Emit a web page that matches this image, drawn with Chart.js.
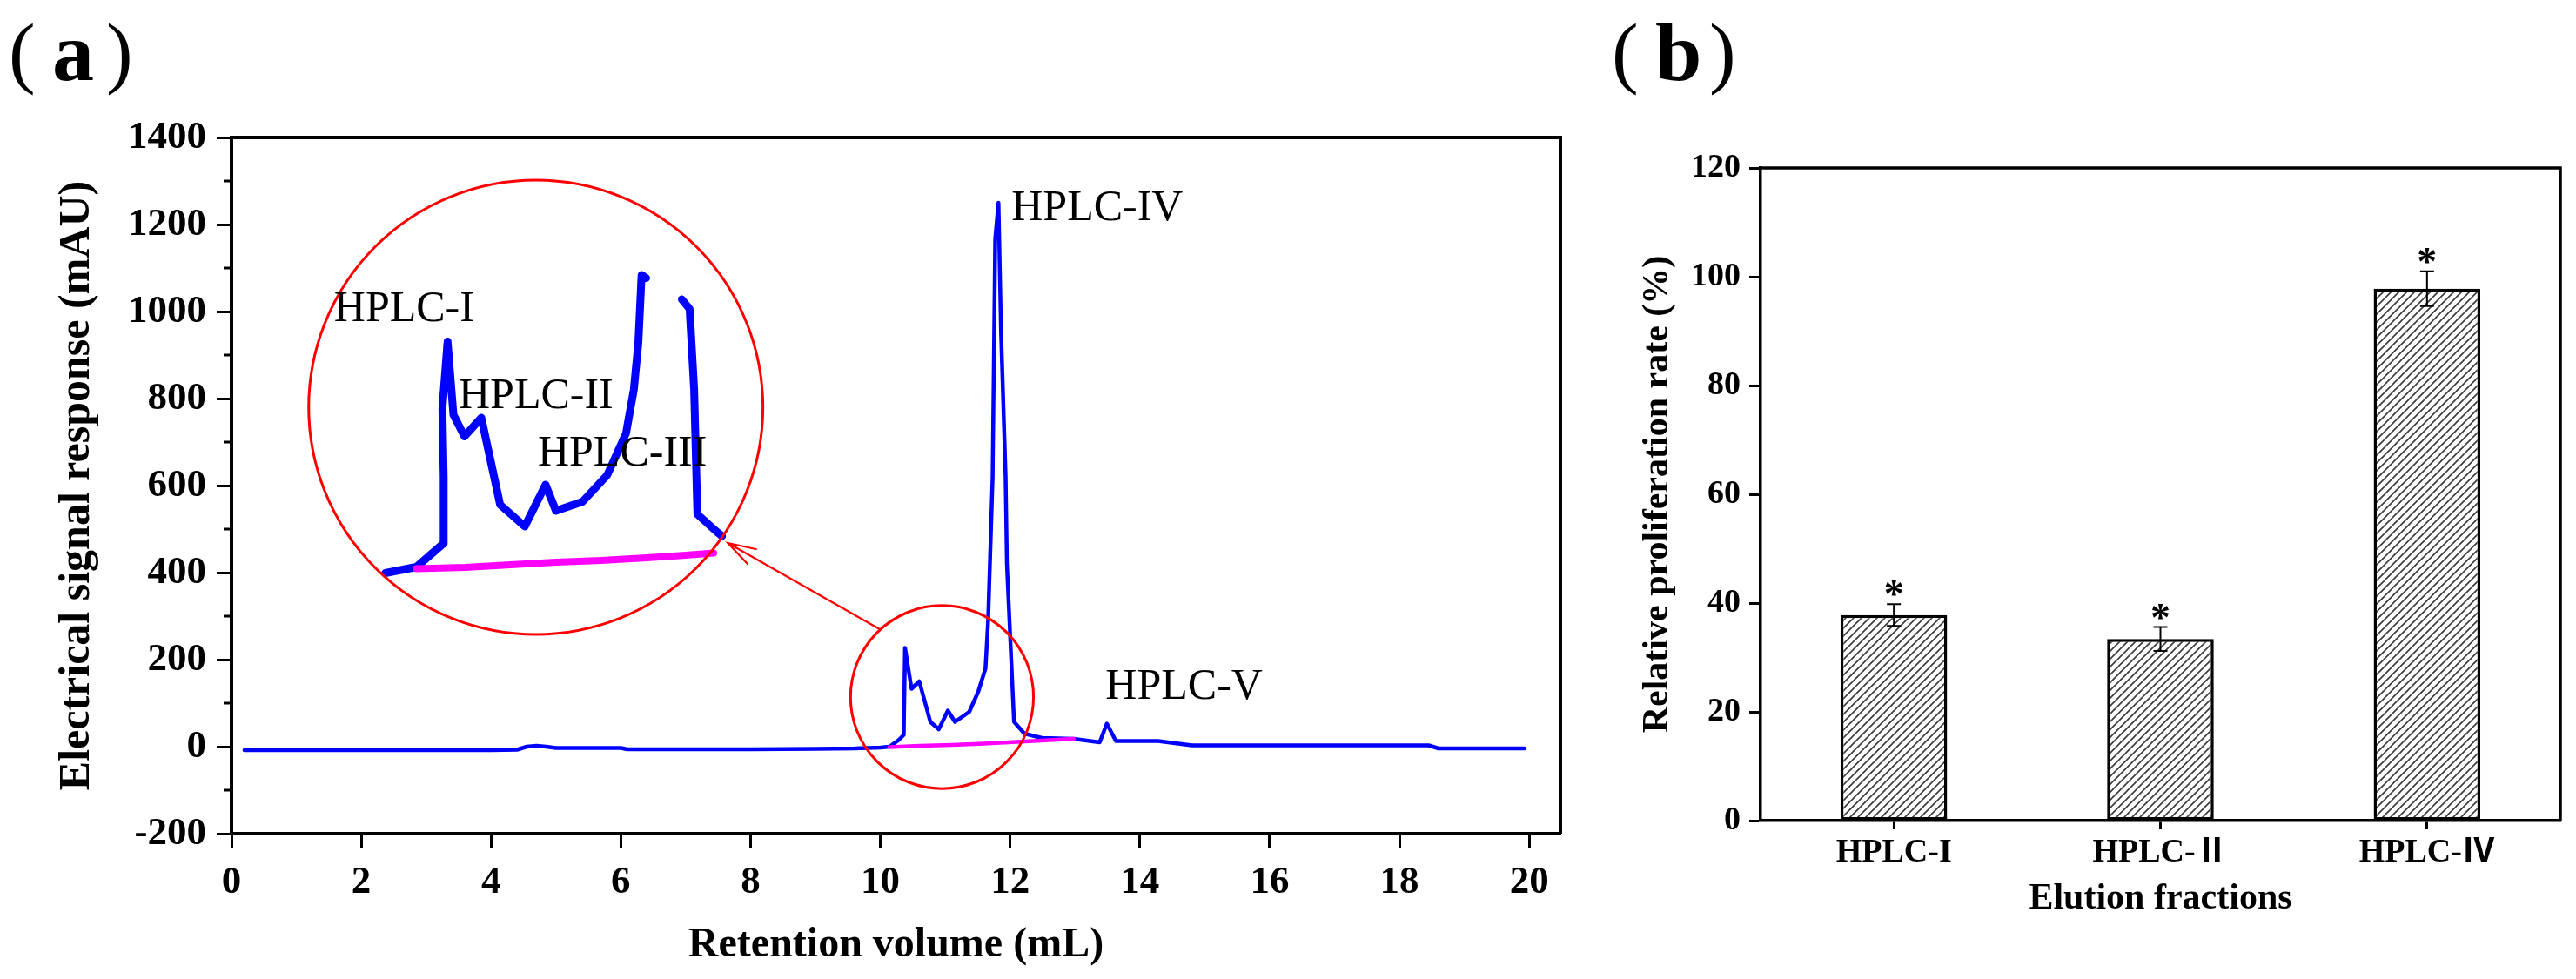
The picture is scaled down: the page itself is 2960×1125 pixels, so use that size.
<!DOCTYPE html>
<html>
<head>
<meta charset="utf-8">
<title>HPLC fractions</title>
<script src="https://cdn.jsdelivr.net/npm/chart.js@4/dist/chart.umd.min.js"></script>
<style>
  html, body { margin: 0; padding: 0; background: #fff; }
  #wrap { position: relative; width: 2960px; height: 1125px; }
  canvas { position: absolute; top: 0; }
  #chartA { left: 0; }
  #chartB { left: 1850px; }
</style>
</head>
<body>
<div id="wrap">
  <canvas id="chartA" width="1850" height="1125"></canvas>
  <canvas id="chartB" width="1110" height="1125"></canvas>
</div>
<script>
// (a) chromatogram, retention volume (mL) vs signal (mAU)
const traceX = [0.2, 1, 2, 3, 4, 4.4, 4.55, 4.7, 4.85, 5.0, 6.0, 6.1, 7, 8, 9, 9.6, 10.0, 10.14, 10.28, 10.36,
  10.38, 10.48, 10.6, 10.77, 10.9, 11.04, 11.15, 11.37, 11.51, 11.62, 11.66, 11.73, 11.77, 11.82, 11.86,
  11.93, 11.95, 12.06, 12.22, 12.49, 12.98, 13.38, 13.49, 13.63, 14.28, 14.54, 14.8, 18.45, 18.6, 19.93];
const traceY = [-8, -8, -8, -8, -8, -7, 0, 2, 0, -3, -3, -6, -6, -6, -5, -4, -2, 0, 15, 27,
  227, 133, 150, 57, 40, 83, 57, 80, 127, 180, 287, 620, 1167, 1250, 953,
  620, 420, 57, 30, 20, 18, 10, 53, 13, 13, 8, 3, 3, -4, -4];

// integration baseline under the first group of peaks
const baseX = [10.14, 10.6, 11.1, 11.6, 12.1, 12.6, 12.98];
const baseY = [-1, 2, 4, 7, 11, 15, 18];

// magnified part shown inside the big circle
const insetX = [2.37, 2.85, 3.26, 3.27, 3.25, 3.33, 3.42, 3.59, 3.85, 4.14, 4.52, 4.84, 5.0, 5.41, 5.79,
  6.08, 6.2, 6.27, 6.32, 6.39, 6.66, 6.94, 7.06, 7.13, 7.18, 7.47, 7.56];
const insetY = [399, 413, 466, 620, 777, 931, 763, 713, 756, 556, 506, 602, 542, 563, 624,
  720, 820, 928, 1084, 1077, null, 1028, 1006, 820, 534, 495, 484];
const insetBaseX = [2.85, 3.6, 4.3, 5.0, 5.7, 6.4, 7.0, 7.43];
const insetBaseY = [409, 412, 418, 424, 428, 434, 440, 445];

const peakNames = ['HPLC-I', 'HPLC-II', 'HPLC-III', 'HPLC-IV', 'HPLC-V'];

// (b) relative proliferation rate of the fractions
const fractions = ['HPLC-I', 'HPLC-Ⅱ', 'HPLC-Ⅳ'];
const rates = [37.8, 33.4, 97.8];
const rateErr = [2.0, 2.2, 3.2];

const SERIF = "'Liberation Serif', 'Times New Roman', 'Noto Sans CJK SC', serif";
Chart.defaults.font.family = SERIF;
Chart.defaults.color = '#000';

function pts(xs, ys) {
  return xs.map((x, i) => ({ x, y: ys[i] }));
}

function panelLabel(ctx, letter, x0) {
  ctx.save();
  ctx.fillStyle = '#000';
  ctx.textBaseline = 'alphabetic';
  ctx.textAlign = 'left';
  ctx.font = `92px ${SERIF}`;
  ctx.fillText('(', x0, 90);
  ctx.font = `bold 96px ${SERIF}`;
  ctx.fillText(letter, x0 + 50, 92);
  ctx.font = `92px ${SERIF}`;
  ctx.fillText(')', x0 + 112, 90);
  ctx.restore();
}

// frame, minor ticks, circles, arrow and peak names for (a)
const chromDecor = {
  id: 'chromDecor',
  afterDatasetsDraw(chart) {
    const { ctx, chartArea: a, scales: { x, y } } = chart;
    ctx.save();
    ctx.strokeStyle = '#000';
    ctx.lineWidth = 4;
    ctx.beginPath();
    ctx.moveTo(a.left, a.top);
    ctx.lineTo(a.right, a.top);
    ctx.lineTo(a.right, a.bottom);
    ctx.stroke();

    ctx.lineWidth = 3;
    for (let v = -100; v < 1400; v += 200) {
      const py = y.getPixelForValue(v);
      ctx.beginPath();
      ctx.moveTo(a.left - 9, py);
      ctx.lineTo(a.left, py);
      ctx.stroke();
    }

    // zoom circles
    ctx.strokeStyle = '#ff0000';
    ctx.lineWidth = 3;
    const circle = (cx, cy, rx) => {
      const px = x.getPixelForValue(cx);
      const r = x.getPixelForValue(cx + rx) - px;
      ctx.beginPath();
      ctx.arc(px, y.getPixelForValue(cy), r, 0, Math.PI * 2);
      ctx.stroke();
    };
    circle(4.69, 780, 3.5);
    circle(10.95, 114, 1.41);

    // arrow from small circle to big one
    const sx = x.getPixelForValue(9.99), sy = y.getPixelForValue(270);
    const tx = x.getPixelForValue(7.65), ty = y.getPixelForValue(468);
    const ang = Math.atan2(sy - ty, sx - tx);
    ctx.lineWidth = 2.2;
    ctx.beginPath();
    ctx.moveTo(sx, sy);
    ctx.lineTo(tx, ty);
    ctx.moveTo(tx + 34 * Math.cos(ang - 0.3), ty + 34 * Math.sin(ang - 0.3));
    ctx.lineTo(tx, ty);
    ctx.lineTo(tx + 34 * Math.cos(ang + 0.3), ty + 34 * Math.sin(ang + 0.3));
    ctx.stroke();

    // peak names
    const spots = [[1.58, 978], [3.5, 778], [4.72, 646], [12.02, 1210], [13.47, 110]];
    ctx.fillStyle = '#000';
    ctx.font = `50px ${SERIF}`;
    ctx.textAlign = 'left';
    ctx.textBaseline = 'alphabetic';
    peakNames.forEach((name, i) => {
      ctx.fillText(name, x.getPixelForValue(spots[i][0]), y.getPixelForValue(spots[i][1]));
    });

    panelLabel(ctx, 'a', 10);
    ctx.restore();
  }
};

new Chart(document.getElementById('chartA'), {
  type: 'line',
  data: {
    datasets: [
      { data: pts(baseX, baseY), borderColor: '#ff00ff', borderWidth: 4.5, order: 1 },
      { data: pts(traceX, traceY), borderColor: '#0000ff', borderWidth: 4.5, order: 2 },
      { data: pts(insetBaseX, insetBaseY), borderColor: '#ff00ff', borderWidth: 8, order: 1 },
      { data: pts(insetX, insetY), borderColor: '#0000ff', borderWidth: 9, order: 2 }
    ]
  },
  options: {
    responsive: false,
    animation: false,
    devicePixelRatio: 1,
    layout: { padding: { top: 158, right: 57, left: 0, bottom: 0 } },
    elements: {
      point: { radius: 0 },
      line: { tension: 0, borderJoinStyle: 'round', borderCapStyle: 'round', fill: false }
    },
    plugins: { legend: { display: false }, tooltip: { enabled: false } },
    scales: {
      x: {
        type: 'linear',
        min: 0,
        max: 20.48,
        grid: { drawOnChartArea: false, tickLength: 17, tickWidth: 3, tickColor: '#000' },
        border: { color: '#000', width: 4 },
        ticks: { stepSize: 2, includeBounds: false, padding: 12, font: { size: 45, weight: 'bold' }, callback: v => `${v}` },
        title: { display: true, text: 'Retention volume (mL)', font: { size: 48, weight: 'bold' }, padding: { top: 0, bottom: 10 } },
        afterFit: s => { s.height = 167; }
      },
      y: {
        min: -200,
        max: 1400,
        grid: { drawOnChartArea: false, tickLength: 17, tickWidth: 3, tickColor: '#000' },
        border: { color: '#000', width: 4 },
        ticks: { stepSize: 200, padding: 12, font: { size: 45, weight: 'bold' }, callback: v => `${v}` },
        title: { display: true, text: 'Electrical signal response (mAU)', font: { size: 50, weight: 'bold' }, padding: { top: 59, bottom: 0 } },
        afterFit: s => { s.width = 266; }
      }
    }
  },
  plugins: [chromDecor]
});

// diagonal hatch fill for the bars
function hatch() {
  const c = document.createElement('canvas');
  c.width = 9;
  c.height = 9;
  const g = c.getContext('2d');
  g.fillStyle = '#fff';
  g.fillRect(0, 0, 9, 9);
  g.strokeStyle = '#3a3a3a';
  g.lineWidth = 1.6;
  g.beginPath();
  g.moveTo(0, 9); g.lineTo(9, 0);
  g.moveTo(-1, 1); g.lineTo(1, -1);
  g.moveTo(8, 10); g.lineTo(10, 8);
  g.stroke();
  return g.createPattern(c, 'repeat');
}

// frame, error bars and asterisks for (b)
const barDecor = {
  id: 'barDecor',
  afterDatasetsDraw(chart) {
    const { ctx, chartArea: a, scales: { y } } = chart;
    ctx.save();
    ctx.strokeStyle = '#000';
    ctx.lineWidth = 3.5;
    ctx.beginPath();
    ctx.moveTo(a.left, a.top);
    ctx.lineTo(a.right, a.top);
    ctx.lineTo(a.right, a.bottom);
    ctx.stroke();

    const meta = chart.getDatasetMeta(0);
    ctx.lineWidth = 2;
    ctx.fillStyle = '#000';
    ctx.font = `bold 46px ${SERIF}`;
    ctx.textAlign = 'center';
    ctx.textBaseline = 'alphabetic';
    meta.data.forEach((bar, i) => {
      const top = y.getPixelForValue(rates[i] + rateErr[i]);
      const bot = y.getPixelForValue(rates[i] - rateErr[i]);
      ctx.beginPath();
      ctx.moveTo(bar.x, top); ctx.lineTo(bar.x, bot);
      ctx.moveTo(bar.x - 8, top); ctx.lineTo(bar.x + 8, top);
      ctx.moveTo(bar.x - 8, bot); ctx.lineTo(bar.x + 8, bot);
      ctx.stroke();
      ctx.fillText('*', bar.x, top + 4);
    });

    panelLabel(ctx, 'b', 2);
    ctx.restore();
  }
};

new Chart(document.getElementById('chartB'), {
  type: 'bar',
  data: {
    labels: fractions,
    datasets: [{
      data: rates,
      backgroundColor: hatch(),
      borderColor: '#000',
      borderWidth: 3.5,
      borderSkipped: false,
      barPercentage: 0.4,
      categoryPercentage: 1
    }]
  },
  options: {
    responsive: false,
    animation: false,
    devicePixelRatio: 1,
    layout: { padding: { top: 193, right: 18, left: 0, bottom: 0 } },
    plugins: { legend: { display: false }, tooltip: { enabled: false } },
    scales: {
      x: {
        grid: { drawOnChartArea: false, offset: false, tickLength: 10, tickWidth: 3, tickColor: '#000' },
        border: { color: '#000', width: 3.5 },
        ticks: { padding: 4, font: { size: 38, weight: 'bold' } },
        title: { display: true, text: 'Elution fractions', font: { size: 42, weight: 'bold' }, padding: { top: 0, bottom: 67 } },
        afterFit: s => { s.height = 182; }
      },
      y: {
        min: 0,
        max: 120,
        grid: { drawOnChartArea: false, tickLength: 13, tickWidth: 3, tickColor: '#000' },
        border: { color: '#000', width: 3.5 },
        ticks: { stepSize: 20, padding: 10, font: { size: 38, weight: 'bold' } },
        title: { display: true, text: 'Relative proliferation rate (%)', font: { size: 42, weight: 'bold' }, padding: { top: 30, bottom: 0 } },
        afterFit: s => { s.width = 173; }
      }
    }
  },
  plugins: [barDecor]
});
</script>
</body>
</html>
